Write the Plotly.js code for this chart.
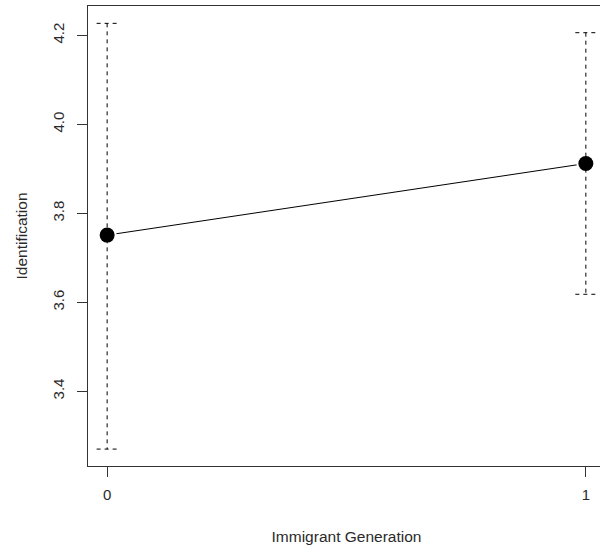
<!DOCTYPE html>
<html>
<head>
<meta charset="utf-8">
<script src="https://cdn.plot.ly/plotly-3.0.1.min.js"></script>
<style>
  html, body { margin: 0; padding: 0; overflow: hidden; background: #fff; }
  #chart { width: 606px; height: 547px; }
</style>
</head>
<body>
<div id="chart"></div>
<script>
// Mean identification by immigrant generation, with interval bounds
const generation = [0, 1];
const identification = [3.751, 3.912];
const lowerBound = [3.270, 3.618];
const upperBound = [4.227, 4.206];
const yTicks = [3.4, 3.6, 3.8, 4.0, 4.2];

const ink = '#000';
const capHalf = 0.022; // cap half-width in x units

// dashed interval bars with caps, one trace per bar
const barTraces = generation.map((g, i) => ({
  type: 'scatter', mode: 'lines', hoverinfo: 'skip', showlegend: false,
  x: [g - capHalf, g + capHalf, null, g, g, null, g - capHalf, g + capHalf],
  y: [upperBound[i], upperBound[i], null, upperBound[i], lowerBound[i], null, lowerBound[i], lowerBound[i]],
  line: { color: ink, width: 1, dash: '4px,4px' }
}));

const data = [
  { // connecting line
    type: 'scatter', mode: 'lines', x: generation, y: identification,
    line: { color: ink, width: 1 }, hoverinfo: 'skip', showlegend: false
  },
  { // white halo that opens a gap in the line around each point
    type: 'scatter', mode: 'markers', x: generation, y: identification,
    marker: { size: 19, color: '#fff' }, hoverinfo: 'skip', showlegend: false
  },
  ...barTraces,
  { // points
    type: 'scatter', mode: 'markers', x: generation, y: identification,
    marker: { size: 15, color: ink }, showlegend: false
  }
];

const family = 'Liberation Sans, Arial, sans-serif';
const tickFont = { family: family, size: 15, color: '#2a2a2a' };
const titleFont = { family: family, size: 15.5, color: '#2a2a2a' };

const layout = {
  width: 606, height: 547,
  margin: { l: 88, r: 1, t: 6, b: 81 },
  paper_bgcolor: '#fff', plot_bgcolor: '#fff',
  showlegend: false,
  xaxis: {
    range: [-0.04, 1.04],
    tickvals: generation, ticktext: generation.map(String),
    ticks: 'outside', ticklen: 10, tickcolor: '#333', tickwidth: 1,
    ticklabelstandoff: 5,
    showgrid: false, zeroline: false,
    showline: true, mirror: true, linecolor: '#333', linewidth: 1,
    tickfont: tickFont,
    title: { text: 'Immigrant Generation', font: titleFont, standoff: 29 }
  },
  yaxis: {
    range: [3.232, 4.266],
    tickvals: yTicks, ticktext: yTicks.map(v => v.toFixed(1)),
    tickangle: -90,
    ticks: 'outside', ticklen: 10, tickcolor: '#333', tickwidth: 1,
    ticklabelstandoff: 7,
    showgrid: false, zeroline: false,
    showline: true, mirror: true, linecolor: '#333', linewidth: 1,
    tickfont: tickFont,
    title: { text: 'Identification', font: titleFont, standoff: 18 }
  }
};

Plotly.newPlot('chart', data, layout, { staticPlot: true, displayModeBar: false });
</script>
</body>
</html>
